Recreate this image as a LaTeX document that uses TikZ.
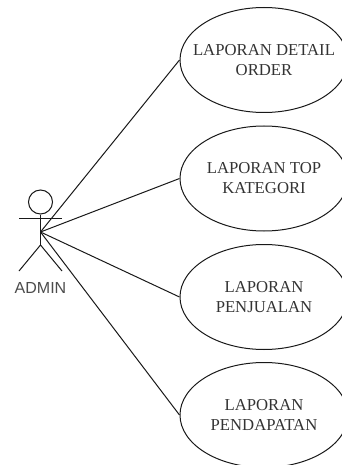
\documentclass[tikz,border=0pt]{standalone}
\usepackage{fontspec}
\setmainfont{Liberation Serif}
\newfontfamily\labelfont{Liberation Sans}
\usetikzlibrary{shapes.geometric}
\tikzset{
  usecase/.style={draw=black!90,ellipse,inner sep=-20pt,minimum width=168pt,minimum height=105pt,align=center,font=\fontsize{16.7}{20}\selectfont,text=black!80},
  actorline/.style={draw=black!90,line width=1pt}
}
\begin{document}
\begin{tikzpicture}[x=1pt,y=-1pt,line width=1pt]
\useasboundingbox (0,0) rectangle (342,465);
\node [usecase] (detail) at (264,60) {LAPORAN DETAIL\\ORDER};
\node [usecase] (kategori) at (264,178.5) {LAPORAN TOP\\KATEGORI};
\node [usecase] (penjualan) at (264,297) {LAPORAN\\PENJUALAN};
\node [usecase] (pendapatan) at (264,415) {LAPORAN\\PENDAPATAN};
\node [draw=black!90,circle,inner sep=0pt,minimum size=24pt] (head) at (40.5,202) {};
\coordinate (hip) at (40.5,245);
\coordinate (lefthand) at (19,218.5);
\coordinate (righthand) at (62,218.5);
\coordinate (leftfoot) at (19,271);
\coordinate (rightfoot) at (62,271);
\coordinate (admin) at (40.5,232);
\draw [actorline] (head.south) -- (hip);
\draw [actorline] (lefthand) -- (righthand);
\draw [actorline] (leftfoot) -- (hip) -- (rightfoot);
\node [text=black!70,font=\labelfont\fontsize{16}{18}\selectfont] (adminlabel) at (40.5,288) {ADMIN};
\draw [actorline] (admin) -- (detail.west);
\draw [actorline] (admin) -- (kategori.west);
\draw [actorline] (admin) -- (penjualan.west);
\draw [actorline] (admin) -- (pendapatan.west);
\end{tikzpicture}
\end{document}
